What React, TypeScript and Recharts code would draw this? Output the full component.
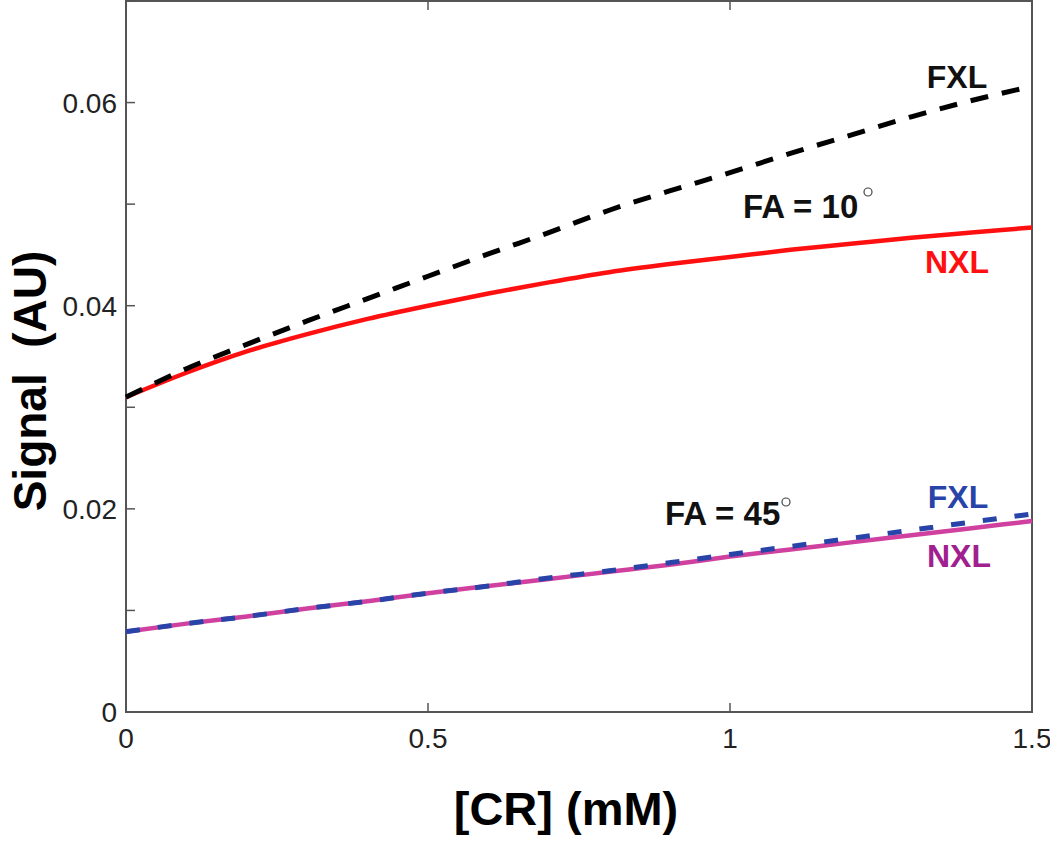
import React from "react";
import { LineChart, Line, XAxis, YAxis, ReferenceArea } from "recharts";

const CR = [0, 0.1, 0.2, 0.3, 0.4, 0.5, 0.6, 0.7, 0.8, 0.9, 1.0, 1.1, 1.2, 1.3, 1.4, 1.5];
const FXL_10 = [0.031, 0.0338, 0.0362, 0.0385, 0.0407, 0.0429, 0.0451, 0.0472, 0.0494, 0.0513, 0.0531, 0.055, 0.0568, 0.0586, 0.0602, 0.0616];
const NXL_10 = [0.031, 0.0334, 0.0355, 0.0372, 0.0387, 0.04, 0.0412, 0.0423, 0.0433, 0.0441, 0.0448, 0.0455, 0.0461, 0.0467, 0.0472, 0.0477];
const FXL_45 = [0.0079, 0.0087, 0.0094, 0.0102, 0.0109, 0.0117, 0.0124, 0.0132, 0.0139, 0.0147, 0.0155, 0.0163, 0.0171, 0.0179, 0.0187, 0.0195];
const NXL_45 = [0.0079, 0.0087, 0.0094, 0.0102, 0.0109, 0.0117, 0.0124, 0.0131, 0.0138, 0.0145, 0.0153, 0.016, 0.0167, 0.0174, 0.0181, 0.0188];

const X_TICKS = [0, 0.5, 1, 1.5];
const X_TICK_LABELS = ["0", "0.5", "1", "1.5"];
const Y_TICKS = [0, 0.01, 0.02, 0.03, 0.04, 0.05, 0.06, 0.07];
const Y_TICK_LABELS = ["0", "", "0.02", "", "0.04", "", "0.06", ""];

const data = CR.map((cr, i) => ({
  cr,
  fxl10: FXL_10[i],
  nxl10: NXL_10[i],
  fxl45: FXL_45[i],
  nxl45: NXL_45[i],
}));

const TICK_COLOR = "#555";
const TICK_LEN = 9;
const TICK_FONT = "'Liberation Sans', Arial, sans-serif";

const BottomTick = (props: any) => {
  const { x, y, payload } = props;
  const label = X_TICK_LABELS[X_TICKS.indexOf(payload.value)] ?? "";
  return (
    <g>
      <line x1={x} y1={y} x2={x} y2={y - TICK_LEN} stroke={TICK_COLOR} strokeWidth={1.5} />
      <text x={x} y={y + 36} textAnchor="middle" fontSize={28} fontFamily={TICK_FONT} fill="#222">
        {label}
      </text>
    </g>
  );
};

const TopTick = (props: any) => {
  const { x, y } = props;
  return <line x1={x} y1={y} x2={x} y2={y + TICK_LEN} stroke={TICK_COLOR} strokeWidth={1.5} />;
};

const LeftTick = (props: any) => {
  const { x, y, payload } = props;
  const idx = Y_TICKS.findIndex((v) => Math.abs(v - payload.value) < 1e-9);
  const label = idx >= 0 ? Y_TICK_LABELS[idx] : "";
  return (
    <g>
      <line x1={x} y1={y} x2={x + TICK_LEN} y2={y} stroke={TICK_COLOR} strokeWidth={1.5} />
      <text x={x - 9} y={y + 10} textAnchor="end" fontSize={28} fontFamily={TICK_FONT} fill="#222">
        {label}
      </text>
    </g>
  );
};

const RightTick = (props: any) => {
  const { x, y } = props;
  return <line x1={x} y1={y} x2={x - TICK_LEN} y2={y} stroke={TICK_COLOR} strokeWidth={1.5} />;
};

const ANN_FONT = "'Liberation Sans', Arial, sans-serif";

export default function App() {
  return (
    <div style={{ position: "absolute", left: 0, top: 0, width: 1050, height: 842, background: "#fff" }}>
      <LineChart
        width={1050}
        height={842}
        data={data}
        margin={{ top: 0, right: 17, bottom: 0, left: 0 }}
      >
        <XAxis
          dataKey="cr"
          type="number"
          domain={[0, 1.5]}
          ticks={X_TICKS}
          height={130}
          tickSize={0}
          tickMargin={0}
          axisLine={false}
          tickLine={false}
          tick={<BottomTick />}
          interval={0}
        />
        <XAxis
          xAxisId="top"
          orientation="top"
          dataKey="cr"
          type="number"
          domain={[0, 1.5]}
          ticks={X_TICKS}
          height={1}
          tickSize={0}
          tickMargin={0}
          axisLine={false}
          tickLine={false}
          tick={<TopTick />}
          interval={0}
        />
        <YAxis
          type="number"
          domain={[0, 0.07]}
          ticks={Y_TICKS}
          width={126}
          tickSize={0}
          tickMargin={0}
          axisLine={false}
          tickLine={false}
          tick={<LeftTick />}
          interval={0}
        />
        <YAxis
          yAxisId="right"
          orientation="right"
          type="number"
          domain={[0, 0.07]}
          ticks={Y_TICKS}
          width={1}
          tickSize={0}
          tickMargin={0}
          axisLine={false}
          tickLine={false}
          tick={<RightTick />}
          interval={0}
        />
        <ReferenceArea x1={0} x2={1.5} y1={0} y2={0.07} fill="none" stroke="#555" strokeWidth={2} ifOverflow="visible" />
        <Line dataKey="nxl10" type="monotone" stroke="#ff1010" strokeWidth={4.5} dot={false} isAnimationActive={false} />
        <Line dataKey="fxl10" type="monotone" stroke="#000" strokeWidth={5} strokeDasharray="18 14" dot={false} isAnimationActive={false} />
        <Line dataKey="nxl45" type="monotone" stroke="#d0409f" strokeWidth={4.5} dot={false} isAnimationActive={false} />
        <Line dataKey="fxl45" type="monotone" stroke="#2844a8" strokeWidth={5} strokeDasharray="14 18" dot={false} isAnimationActive={false} />
      </LineChart>
      <svg width={1050} height={842} style={{ position: "absolute", left: 0, top: 0, pointerEvents: "none" }}>
        <text
          x={46}
          y={381}
          transform="rotate(-90 46 381)"
          textAnchor="middle"
          fontSize={46}
          fontWeight="bold"
          fontFamily={ANN_FONT}
          fill="#000"
        >
          {"Signal\u00a0\u00a0(AU)"}
        </text>
        <text x={566} y={825} textAnchor="middle" fontSize={47} fontWeight="bold" fontFamily={ANN_FONT} fill="#000">
          [CR] (mM)
        </text>
        <text x={957} y={88} textAnchor="middle" fontSize={32} fontWeight="bold" fontFamily={ANN_FONT} fill="#111">
          FXL
        </text>
        <text x={743} y={218} textAnchor="start" fontSize={33} fontWeight="bold" fontFamily={ANN_FONT} fill="#111">
          FA = 10
        </text>
        <circle cx={868} cy={192} r={4} fill="none" stroke="#444" strokeWidth={1.2} />
        <text x={957} y={273} textAnchor="middle" fontSize={32} fontWeight="bold" fontFamily={ANN_FONT} fill="#ff1010">
          NXL
        </text>
        <text x={665} y={525} textAnchor="start" fontSize={33} fontWeight="bold" fontFamily={ANN_FONT} fill="#111">
          FA = 45
        </text>
        <circle cx={786} cy={502} r={4} fill="none" stroke="#444" strokeWidth={1.2} />
        <text x={958} y={508} textAnchor="middle" fontSize={32} fontWeight="bold" fontFamily={ANN_FONT} fill="#2844a8">
          FXL
        </text>
        <text x={959} y={567} textAnchor="middle" fontSize={32} fontWeight="bold" fontFamily={ANN_FONT} fill="#a0208f">
          NXL
        </text>
      </svg>
    </div>
  );
}
